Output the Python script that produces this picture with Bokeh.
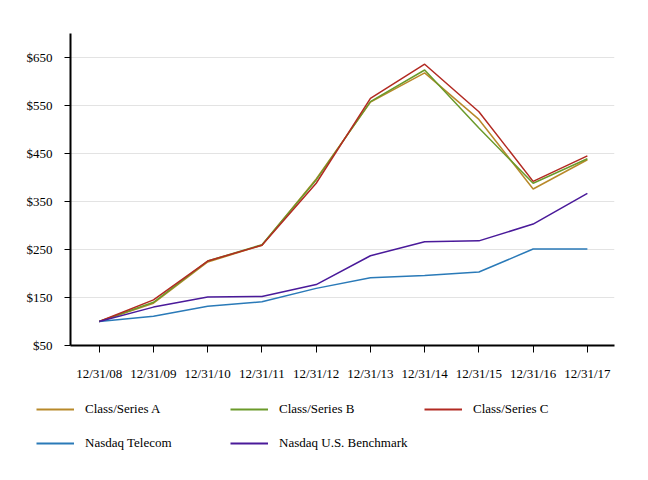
from bokeh.plotting import figure
from bokeh.models import Range1d, FixedTicker, NumeralTickFormatter, Legend, LegendItem
from bokeh.embed import file_html
from bokeh.resources import INLINE

dates = ["12/31/08", "12/31/09", "12/31/10", "12/31/11", "12/31/12",
         "12/31/13", "12/31/14", "12/31/15", "12/31/16", "12/31/17"]
series_a = [100, 138, 224, 259, 397, 557, 618, 521, 376, 437]
series_b = [100, 140, 226, 260, 395, 558, 624, 503, 388, 439]
series_c = [100, 145, 226, 259, 388, 565, 636, 537, 392, 445]
nasdaq_telecom = [100, 111, 132, 141, 169, 191, 196, 203, 251, 251]
nasdaq_benchmark = [100, 130, 151, 152, 177, 237, 266, 268, 303, 367]
y_ticks = [50, 150, 250, 350, 450, 550, 650]

names = ["Class/Series A", "Class/Series B", "Class/Series C",
         "Nasdaq Telecom", "Nasdaq U.S. Benchmark"]
values = [series_a, series_b, series_c, nasdaq_telecom, nasdaq_benchmark]
colors = ["#b8892a", "#6b9a2a", "#b22a22", "#2a7ab8", "#4a1a9a"]

FONT = "Liberation Serif"
x = list(range(len(dates)))

p = figure(width=640, height=390, output_backend="svg", toolbar_location=None,
           x_range=Range1d(-0.53, 9.5), y_range=Range1d(50, 700),
           min_border_left=70, min_border_right=26, min_border_top=33,
           min_border_bottom=45)
p.outline_line_color = None
p.background_fill_color = "white"
p.border_fill_color = "white"

for vals, col in zip(values, colors):
    p.line(x, vals, line_color=col, line_width=1.5)

p.xgrid.visible = False
p.ygrid.grid_line_color = "#e3e3e3"
p.ygrid.grid_line_width = 1

p.xaxis.ticker = FixedTicker(ticks=x)
p.xaxis.major_label_overrides = {i: d for i, d in enumerate(dates)}
p.yaxis.ticker = FixedTicker(ticks=y_ticks)
p.yaxis.formatter = NumeralTickFormatter(format="$0")

for ax in (p.xaxis[0], p.yaxis[0]):
    ax.axis_line_color = "black"
    ax.axis_line_width = 2
    ax.major_tick_line_color = "black"
    ax.major_tick_line_width = 1
    ax.major_tick_in = 0
    ax.minor_tick_line_color = None
    ax.major_label_text_font = FONT
    ax.major_label_text_font_size = "13px"
    ax.major_label_text_color = "black"
p.xaxis.major_tick_out = 7
p.xaxis.major_label_standoff = 13
p.yaxis.major_tick_out = 6
p.yaxis.major_label_standoff = 12

# legend panel (a separate root so that its frame is not aligned with the chart)
lg = figure(width=640, height=82, output_backend="svg", toolbar_location=None,
            x_range=Range1d(0, 1), y_range=Range1d(0, 1),
            min_border_left=0, min_border_right=0, min_border_top=0,
            min_border_bottom=0)
lg.axis.visible = False
lg.grid.visible = False
lg.outline_line_color = None
lg.border_fill_color = "white"
lg.background_fill_color = "white"
nan = float("nan")
lg_renderers = [lg.line(x=[nan], y=[nan], line_color=c, line_width=2) for c in colors]

items = [LegendItem(label=n, renderers=[r]) for n, r in zip(names, lg_renderers)]
legend = Legend(items=items, orientation="horizontal", ncols=3,
                location=(36, 17), padding=0, margin=0, spacing=10,
                glyph_width=38, glyph_height=24, label_standoff=11,
                label_width=135, label_height=24,
                label_text_font=FONT, label_text_font_size="13px",
                label_text_color="black",
                border_line_color=None, background_fill_alpha=0)
lg.add_layout(legend, "center")

open("out.html", "w").write(file_html([p, lg], INLINE))
